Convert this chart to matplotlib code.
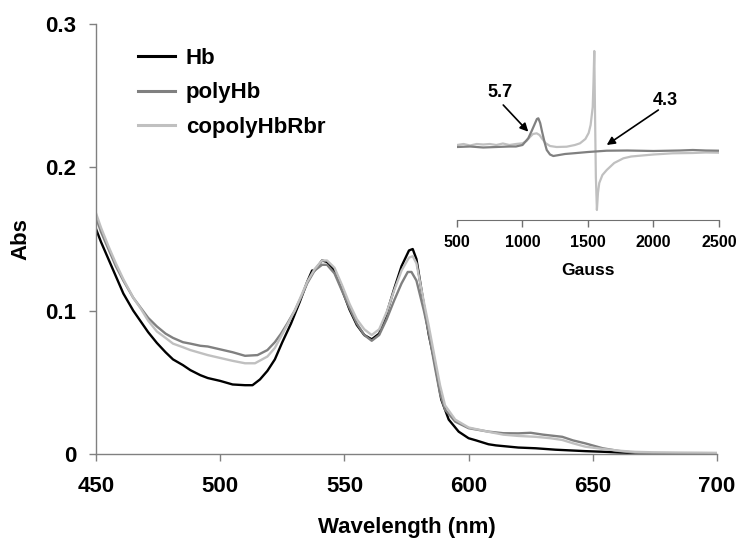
import matplotlib
matplotlib.use("Agg")
import matplotlib.pyplot as plt

# ---------------- data ----------------
wl_hb = [450, 452, 455, 458, 461, 465, 468, 471, 474.5, 478, 481, 485, 488, 492, 495, 500, 505, 510, 513,
         516, 519, 522, 525, 528.5, 532, 535, 537, 538, 541, 543, 546, 549, 552, 555, 558, 561, 564, 567,
         570, 573, 576, 577.5, 579, 582, 584, 586.5, 589, 592, 596, 600, 603, 608, 611, 620, 627, 635, 647,
         655, 661, 670, 700]
abs_hb = [0.157, 0.148, 0.136, 0.124, 0.112, 0.100, 0.0925, 0.085, 0.0775, 0.071, 0.066, 0.062, 0.0585,
          0.055, 0.053, 0.051, 0.0485, 0.048, 0.048, 0.052, 0.058, 0.066, 0.078, 0.091, 0.106, 0.120, 0.128,
          0.128, 0.135, 0.134, 0.128, 0.115, 0.101, 0.090, 0.083, 0.080, 0.084, 0.098, 0.115, 0.131, 0.142,
          0.143, 0.136, 0.104, 0.083, 0.063, 0.038, 0.024, 0.0156, 0.011, 0.0095, 0.0068, 0.006, 0.0045,
          0.004, 0.003, 0.002, 0.0015, 0.001, 0.0005, 0.0]

wl_poly = [450, 452, 455, 458, 461, 465, 468, 471, 474.5, 478, 481, 485, 488, 492, 495, 500, 505, 510, 515,
           519, 522, 524.5, 527, 530, 533, 535, 538, 541, 543, 546, 549, 552, 555, 558, 561, 564, 567, 570,
           573, 575.5, 577, 579, 582, 584, 586.5, 588.5, 590.5, 594.6, 600, 608, 614, 620, 625, 630, 637.7,
           642, 647, 654, 660.6, 667, 680, 700]
abs_poly = [0.165, 0.155, 0.143, 0.131, 0.121, 0.109, 0.102, 0.095, 0.089, 0.084, 0.081, 0.078, 0.077,
            0.0755, 0.075, 0.073, 0.071, 0.0685, 0.069, 0.0725, 0.078, 0.084, 0.091, 0.100, 0.111, 0.119,
            0.128, 0.132, 0.132, 0.126, 0.114, 0.102, 0.091, 0.083, 0.079, 0.083, 0.094, 0.107, 0.119,
            0.127, 0.127, 0.121, 0.100, 0.084, 0.060, 0.042, 0.031, 0.0226, 0.018, 0.0156, 0.0145, 0.0144,
            0.0148, 0.0135, 0.012, 0.0095, 0.0074, 0.0040, 0.0021, 0.0009, 0.0003, 0.0]

wl_co = [450, 452, 455, 458, 461, 465, 468, 471, 474.5, 478, 481, 485, 488, 492, 495, 500, 505, 510, 514,
         519, 522, 524.5, 527, 530, 533, 535, 538, 541, 543, 546, 549, 552, 555, 558, 561, 564, 567, 570,
         573, 576, 577.5, 579, 582, 584, 586.5, 588.5, 590.5, 594.6, 600, 608, 614, 620, 627, 633, 637.7,
         642, 647, 654, 660.6, 667, 674, 685, 694, 700]
abs_co = [0.168, 0.158, 0.145, 0.133, 0.122, 0.109, 0.1015, 0.093, 0.0855, 0.081, 0.077, 0.0745, 0.0725,
          0.0705, 0.069, 0.067, 0.065, 0.0633, 0.0633, 0.068, 0.074, 0.082, 0.090, 0.100, 0.112, 0.120,
          0.129, 0.135, 0.135, 0.130, 0.118, 0.105, 0.094, 0.087, 0.083, 0.087, 0.099, 0.114, 0.128,
          0.137, 0.138, 0.133, 0.106, 0.089, 0.066, 0.048, 0.034, 0.024, 0.0185, 0.0155, 0.0135, 0.0126,
          0.0120, 0.0110, 0.0098, 0.0075, 0.0051, 0.0035, 0.0023, 0.0015, 0.0012, 0.001, 0.0009, 0.0008]

series_names = ["Hb", "polyHb", "copolyHbRbr"]
series_colors = ["#000000", "#808080", "#c0c0c0"]

x_ticks = [450, 500, 550, 600, 650, 700]
y_ticks = [0, 0.1, 0.2, 0.3]
y_tick_labels = ["0", "0.1", "0.2", "0.3"]

# inset EPR spectra (arbitrary units)
g_poly = [500, 600, 700, 800, 900, 950, 1000, 1044, 1070, 1090, 1110, 1121, 1135, 1150, 1170, 1185, 1210,
          1235, 1280, 1324, 1388, 1500, 1643, 1800, 2000, 2200, 2300, 2400, 2500]
s_poly = [0.0, 0.05, -0.05, 0.0, 0.05, 0.05, 0.2, 0.87, 1.6, 2.2, 2.8, 2.87, 2.4, 1.5, 0.4, -0.3, -0.75,
          -0.9, -0.8, -0.7, -0.63, -0.5, -0.37, -0.35, -0.4, -0.35, -0.3, -0.35, -0.37]
g_co = [500, 550, 600, 650, 700, 750, 800, 850, 900, 950, 1000, 1030, 1057, 1080, 1108, 1130, 1146, 1175,
        1210, 1260, 1337, 1400, 1439, 1480, 1505, 1520, 1536, 1542, 1548, 1553, 1560, 1568, 1576, 1586,
        1610, 1643, 1700, 1770, 1830, 1897, 2000, 2147, 2300, 2400, 2500]
s_co = [0.2, 0.3, 0.15, 0.3, 0.25, 0.3, 0.2, 0.35, 0.2, 0.3, 0.37, 0.6, 1.0, 1.3, 1.37, 1.2, 0.9, 0.4,
        0.1, 0.0, 0.03, 0.2, 0.37, 0.8, 1.4, 2.2, 4.0, 6.5, 9.6, 4.0, -3.0, -6.3, -4.6, -3.6,
        -2.8, -2.3, -1.6, -1.13, -0.95, -0.87, -0.75, -0.63, -0.6, -0.55, -0.57]
inset_ticks = [500, 1000, 1500, 2000, 2500]

# ---------------- figure ----------------
plt.rcParams['font.family'] = ['Liberation Sans', 'DejaVu Sans']
plt.rcParams['font.weight'] = 'bold'

W, H = 737, 543
fig = plt.figure(figsize=(W / 100, H / 100), dpi=100)
ax = fig.add_axes([96 / W, 1 - 454 / H, (717 - 96) / W, (454 - 24) / H])

spine_c = "#808080"
for (wl, ab), name, col in zip([(wl_hb, abs_hb), (wl_poly, abs_poly), (wl_co, abs_co)],
                               series_names, series_colors):
    ax.plot(wl, ab, color=col, lw=1.7, label=name, solid_joinstyle='round')

ax.set_xlim(450, 700)
ax.set_ylim(0, 0.3)
ax.set_xticks(x_ticks)
ax.set_yticks(y_ticks)
ax.set_yticklabels(y_tick_labels)
for s in ['top', 'right']:
    ax.spines[s].set_visible(False)
for s in ['left', 'bottom']:
    ax.spines[s].set_color(spine_c)
    ax.spines[s].set_linewidth(1.0)
ax.tick_params(axis='both', direction='out', length=5, width=1.0, color=spine_c, labelsize=16)
ax.tick_params(axis='x', pad=11)
ax.tick_params(axis='y', pad=9)
for lab in ax.get_xticklabels() + ax.get_yticklabels():
    lab.set_fontweight('bold')
ax.set_xlabel("Wavelength (nm)", fontsize=16, fontweight='bold', labelpad=14)
ax.set_ylabel("Abs", fontsize=16, fontweight='bold', labelpad=10)

leg = ax.legend(loc='upper left', bbox_to_anchor=(138 / W, 1 - 48 / H), bbox_transform=fig.transFigure,
                frameon=False, fontsize=16, handlelength=1.65, handletextpad=0.5, labelspacing=0.6,
                borderpad=0, borderaxespad=0)
for t in leg.get_texts():
    t.set_fontweight('bold')
for l in leg.get_lines():
    l.set_linewidth(2.2)

# ---------------- inset ----------------
ax2 = fig.add_axes([457 / W, 1 - 220 / H, (719 - 457) / W, 180 / H])
ax2.patch.set_alpha(0)
ax2.plot(g_co, s_co, color=series_colors[2], lw=1.6)
ax2.plot(g_poly, s_poly, color=series_colors[1], lw=1.6)
ax2.set_xlim(500, 2500)
ax2.set_ylim(-7.3, 10.7)
ax2.set_xticks(inset_ticks)
ax2.set_yticks([])
for s in ['top', 'right', 'left']:
    ax2.spines[s].set_visible(False)
ax2.spines['bottom'].set_color("#707070")
ax2.tick_params(axis='x', direction='out', length=5, width=1.0, color="#707070", labelsize=11.5, pad=6)
for lab in ax2.get_xticklabels():
    lab.set_fontweight('bold')
ax2.set_xlabel("Gauss", fontsize=12.5, fontweight='bold', labelpad=9)

arrow_kw = dict(arrowstyle='-|>', color='black', lw=1.2, mutation_scale=12, shrinkA=0, shrinkB=0)
ax2.annotate('', xy=(1044, 1.53), xytext=(853, 4.2), arrowprops=arrow_kw)
ax2.text(828, 5.5, "5.7", fontsize=13, fontweight='bold', ha='center', va='center')
ax2.annotate('', xy=(1643, 0.2), xytext=(2037, 3.7), arrowprops=arrow_kw)
ax2.text(2088, 4.7, "4.3", fontsize=13, fontweight='bold', ha='center', va='center')

fig.savefig("out.png", dpi=100)
